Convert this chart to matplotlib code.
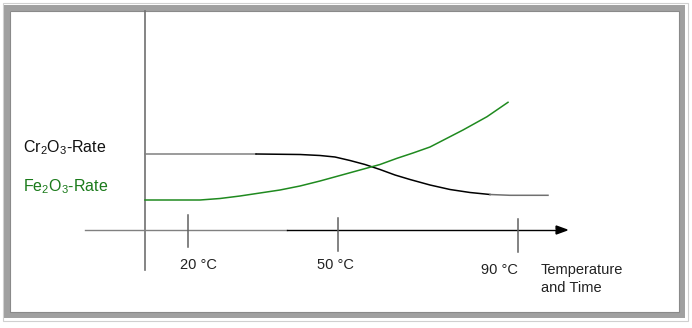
import matplotlib
matplotlib.use("Agg")
import matplotlib.pyplot as plt
from matplotlib.patches import Rectangle, FancyArrow

plt.rcParams['font.family'] = ['Liberation Sans', 'DejaVu Sans']
plt.rcParams['mathtext.fontset'] = 'custom'
plt.rcParams['mathtext.rm'] = 'Liberation Sans'
plt.rcParams['mathtext.it'] = 'Liberation Sans'

# Schematic series (horizontal position, vertical position in picture units)
cr_x = [145, 200, 256, 300, 320, 335, 350, 365, 380, 395, 410, 430, 450, 470, 490, 510, 548]
cr_y = [154, 154, 154, 154.5, 155.5, 157, 160.5, 164.5, 169.5, 175, 179.5, 185, 189.5, 192.5, 194.5, 195.3, 195.3]
fe_x = [145, 170, 200, 220, 240, 260, 280, 300, 320, 340, 360, 380, 397, 413, 430, 463, 487, 508]
fe_y = [200, 200, 200, 198.5, 196, 193, 190, 186, 181, 175.5, 170, 164.5, 158.3, 153, 147, 130, 116.7, 102.3]

tick_x = [188, 338, 518]
tick_top = [215, 218, 219]
tick_bot = [247, 250.5, 252]
tick_labels = ["20 °C", "50 °C", "90 °C"]
tick_label_x = [198, 335, 499]
tick_label_y = [265, 265, 270]

fig = plt.figure(figsize=(6.92, 3.28), dpi=100)
ax = fig.add_axes([0, 0, 1, 1])
ax.set_xlim(0, 692)
ax.set_ylim(328, 0)
ax.axis('off')

# frame
ax.add_patch(Rectangle((2.5, 2.5), 685, 318, fill=False, ec='#d0d0d0', lw=0.8))
ax.add_patch(Rectangle((6.5, 7.5), 675, 307.5, fill=False, ec='#a0a0a0', lw=4.3))
ax.add_patch(Rectangle((9.5, 10.5), 669, 301.5, fill=False, ec='#8a8a8a', lw=0.8))

# axes
ax.plot([145, 145], [10.5, 270], color='#707070', lw=1.2)
ax.plot([85, 287], [230, 230], color='#808080', lw=1.0)
ax.plot([287, 558], [230, 230], color='black', lw=1.0)
ax.add_patch(FancyArrow(556, 230, 0.1, 0, width=0, head_width=8, head_length=11,
                        color='black', length_includes_head=False))

for x, t, b in zip(tick_x, tick_top, tick_bot):
    ax.plot([x, x], [t, b], color='#606060', lw=1.1)
for lab, x, y in zip(tick_labels, tick_label_x, tick_label_y):
    ax.text(x, y, lab, ha='center', va='center', fontsize=10.5, color='#222222')
ax.text(541, 270, "Temperature", ha='left', va='center', fontsize=10.5, color='#222222')
ax.text(541, 288, "and Time", ha='left', va='center', fontsize=10.5, color='#222222')

# series
ax.plot(cr_x[:3], cr_y[:3], color='#808080', lw=1.1)
ax.plot(cr_x[2:-2], cr_y[2:-2], color='black', lw=1.1)
ax.plot(cr_x[-3:], cr_y[-3:], color='#707070', lw=1.1)
ax.plot(fe_x, fe_y, color='#1f8a1f', lw=1.1)

ax.text(23, 148, r"Cr$_\mathregular{2}$O$_\mathregular{3}$-Rate", ha='left', va='center',
        fontsize=11.5, color='#111111')
ax.text(23, 186.5, r"Fe$_\mathregular{2}$O$_\mathregular{3}$-Rate", ha='left', va='center',
        fontsize=11.5, color='#1a7a1a')

fig.savefig("out.png", dpi=100)
